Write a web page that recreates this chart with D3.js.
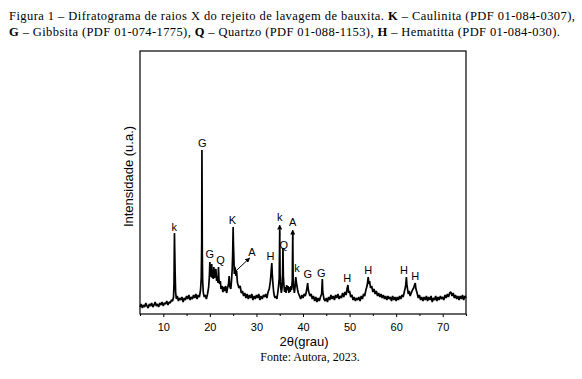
<!DOCTYPE html>
<html>
<head>
<meta charset="utf-8">
<script src="https://cdn.jsdelivr.net/npm/d3@7/dist/d3.min.js"></script>
<style>
  html, body { margin: 0; padding: 0; background: #fff; }
  svg { display: block; }
</style>
</head>
<body>
<svg id="chart" width="582" height="379"></svg>
<script>
// ---------- DATA ----------
const titleLine1 = [
  {t: "Figura 1 – Difratograma de raios X do rejeito de lavagem de bauxita. ", b: false},
  {t: "K", b: true},
  {t: " – Caulinita (PDF 01-084-0307),", b: false}
];
const titleLine2 = [
  {t: "G", b: true}, {t: " – Gibbsita (PDF 01-074-1775), ", b: false},
  {t: "Q", b: true}, {t: " – Quartzo (PDF 01-088-1153), ", b: false},
  {t: "H", b: true}, {t: " – Hematitta (PDF 01-084-030).", b: false}
];
const xLabel = "2θ(grau)";
const yLabel = "Intensidade (u.a.)";
const sourceText = "Fonte: Autora, 2023.";
const xDomain = [5, 75];
const yDomain = [0, 263];
const xMajorTicks = [10, 20, 30, 40, 50, 60, 70];
const xMinorTicks = [5, 15, 25, 35, 45, 55, 65, 75];

// [2θ, intensity (u.a.)]
const scan = [
  [5.00,7],[5.25,10],[5.50,6],[5.75,9],[6.00,7],[6.25,11],[6.50,8],[6.75,6],[7.00,10],[7.25,8],
  [7.50,11],[7.75,7],[8.00,9],[8.25,12],[8.50,8],[8.75,10],[9.00,7],[9.25,11],[9.50,9],[9.75,12],
  [10.00,8],[10.25,11],[10.50,10],[10.75,13],[11.00,9],[11.25,12],[11.50,11],[11.75,14],[12.00,13],[12.20,17],
  [12.30,30],[12.40,81],[12.45,66],[12.55,40],[12.65,22],[12.80,15],[13.00,18],[13.25,13],[13.50,16],[13.75,14],
  [14.00,17],[14.25,12],[14.50,16],[14.75,14],[15.00,18],[15.25,15],[15.50,19],[15.75,14],[16.00,17],[16.25,15],
  [16.50,19],[16.75,16],[17.00,20],[17.25,15],[17.50,19],[17.75,17],[18.00,24],[18.15,36],[18.25,70],[18.30,164],
  [18.38,60],[18.45,33],[18.60,21],[18.80,17],[19.00,19],[19.25,15],[19.50,20],[19.75,27],[19.90,38],[20.00,52],
  [20.10,40],[20.20,46],[20.30,37],[20.40,50],[20.50,36],[20.60,42],[20.75,35],[20.85,47],[21.00,36],[21.15,42],
  [21.30,45],[21.45,33],[21.60,38],[21.75,31],[21.85,47],[21.95,35],[22.10,30],[22.25,33],[22.40,25],[22.60,28],
  [22.80,22],[23.00,27],[23.20,23],[23.40,28],[23.60,21],[23.80,26],[24.00,30],[24.15,38],[24.30,27],[24.50,25],
  [24.65,33],[24.80,45],[24.90,60],[25.00,87],[25.05,72],[25.15,58],[25.25,40],[25.35,47],[25.50,44],[25.60,38],
  [25.75,43],[25.90,32],[26.00,30],[26.25,26],[26.50,28],[26.75,21],[27.00,23],[27.25,18],[27.50,21],[27.75,16],
  [28.00,20],[28.25,15],[28.50,19],[28.75,16],[29.00,20],[29.25,14],[29.50,18],[29.75,15],[30.00,19],[30.25,16],
  [30.50,20],[30.75,14],[31.00,18],[31.25,15],[31.50,19],[31.75,17],[32.00,20],[32.25,16],[32.50,22],[32.75,25],
  [33.00,33],[33.15,42],[33.30,51],[33.40,40],[33.55,30],[33.70,22],[33.85,18],[34.00,16],[34.20,18],[34.40,15],
  [34.60,22],[34.75,28],[34.90,36],[35.00,84],[35.08,40],[35.20,27],[35.35,21],[35.50,26],[35.62,40],[35.70,66],
  [35.78,38],[35.90,29],[36.05,22],[36.20,27],[36.35,21],[36.50,29],[36.65,24],[36.80,28],[36.95,21],[37.10,27],
  [37.25,22],[37.40,28],[37.55,24],[37.70,34],[37.80,82],[37.88,36],[38.00,26],[38.15,21],[38.30,27],[38.45,37],
  [38.55,33],[38.70,28],[38.85,24],[39.00,21],[39.25,18],[39.50,15],[39.75,19],[40.00,16],[40.25,20],[40.50,18],
  [40.75,23],[41.00,31],[41.15,24],[41.30,21],[41.50,18],[41.75,20],[42.00,15],[42.25,18],[42.50,13],[42.75,17],
  [43.00,12],[43.25,16],[43.50,13],[43.75,17],[44.00,20],[44.15,35],[44.25,22],[44.50,15],[44.75,13],[45.00,16],
  [45.25,12],[45.50,17],[45.75,14],[46.00,19],[46.25,15],[46.50,18],[46.75,14],[47.00,19],[47.25,16],[47.50,20],
  [47.75,15],[48.00,18],[48.25,16],[48.50,21],[48.75,17],[49.00,22],[49.25,19],[49.50,26],[49.65,29],[49.80,21],
  [50.00,23],[50.25,17],[50.50,19],[50.75,14],[51.00,17],[51.25,13],[51.50,16],[51.75,14],[52.00,17],[52.25,13],
  [52.50,18],[52.75,15],[53.00,20],[53.25,18],[53.50,24],[53.75,28],[53.90,33],[54.00,37],[54.15,30],[54.30,33],
  [54.50,26],[54.75,28],[55.00,22],[55.25,25],[55.50,20],[55.75,23],[56.00,18],[56.25,21],[56.50,17],[56.75,20],
  [57.00,16],[57.25,19],[57.50,15],[57.75,18],[58.00,14],[58.25,18],[58.50,15],[58.75,17],[59.00,13],[59.25,18],
  [59.50,14],[59.75,17],[60.00,13],[60.25,17],[60.50,14],[60.75,18],[61.00,15],[61.25,19],[61.50,17],[61.75,22],
  [62.00,27],[62.10,31],[62.20,37],[62.30,30],[62.45,25],[62.60,20],[62.80,23],[63.00,18],[63.25,21],[63.50,24],
  [63.75,26],[63.95,29],[64.10,31],[64.25,25],[64.50,21],[64.75,16],[65.00,19],[65.25,14],[65.50,17],[65.75,13],
  [66.00,17],[66.25,14],[66.50,18],[66.75,13],[67.00,17],[67.25,14],[67.50,18],[67.75,12],[68.00,16],[68.25,14],
  [68.50,18],[68.75,13],[69.00,17],[69.25,14],[69.50,18],[69.75,15],[70.00,17],[70.25,14],[70.50,19],[70.75,16],
  [71.00,20],[71.25,17],[71.50,21],[71.75,22],[72.00,18],[72.25,21],[72.50,16],[72.75,19],[73.00,15],[73.25,18],
  [73.50,14],[73.75,18],[74.00,15],[74.25,19],[74.50,14],[74.75,18],[75.00,16]
];

// phase labels: text, 2θ, intensity at text baseline
const peakLabels = [
  {t: "k", x: 12.35, y: 83},
  {t: "G", x: 18.4, y: 167},
  {t: "G", x: 20.0, y: 56},
  {t: "Q", x: 22.3, y: 50},
  {t: "K", x: 24.85, y: 90},
  {t: "A", x: 29.05, y: 58},
  {t: "H", x: 33.0, y: 54},
  {t: "k", x: 35.0, y: 93},
  {t: "Q", x: 35.9, y: 65},
  {t: "A", x: 37.8, y: 88},
  {t: "k", x: 38.7, y: 42},
  {t: "G", x: 41.0, y: 36},
  {t: "G", x: 43.9, y: 37},
  {t: "H", x: 49.5, y: 32},
  {t: "H", x: 54.0, y: 40},
  {t: "H", x: 61.7, y: 40},
  {t: "H", x: 64.1, y: 34}
];
// arrows: from (x1,y1) to (x2,y2) in data units
const arrows = [
  {x1: 25.35, y1: 42, x2: 28.55, y2: 56},
  {x1: 35.0, y1: 78, x2: 35.0, y2: 89},
  {x1: 37.8, y1: 74, x2: 37.8, y2: 84}
];

// ---------- LAYOUT ----------
const svg = d3.select("#chart");
const plot = {left: 140, right: 466, top: 51, bottom: 314};

const x = d3.scaleLinear().domain(xDomain).range([plot.left, plot.right]);
const y = d3.scaleLinear().domain(yDomain).range([plot.bottom, plot.top]);

svg.append("rect").attr("width", 582).attr("height", 379).attr("fill", "#fff");

svg.append("defs").append("marker")
  .attr("id", "ah").attr("viewBox", "0 0 10 10").attr("refX", 9).attr("refY", 5)
  .attr("markerWidth", 5).attr("markerHeight", 5).attr("orient", "auto")
  .attr("markerUnits", "userSpaceOnUse")
  .append("path").attr("d", "M0,0 L10,5 L0,10 Z").attr("fill", "#000");

// title
function addTitle(parts, yy, target) {
  const t = svg.append("text").attr("x", 9).attr("y", yy)
    .attr("font-family", "'Liberation Serif', 'Times New Roman', serif")
    .attr("font-size", 12.5).attr("fill", "#000");
  parts.forEach(p => t.append("tspan").text(p.t).attr("font-weight", p.b ? "bold" : "normal"));
  const w = t.node().getComputedTextLength();
  const n = parts.map(p => p.t).join("").length;
  t.attr("letter-spacing", ((target - w) / (n - 1)).toFixed(3));
}
addTitle(titleLine1, 20, 566);
addTitle(titleLine2, 36, 551);

// x axis
const axG = svg.append("g").attr("transform", `translate(0,${plot.bottom})`);
axG.call(d3.axisBottom(x).tickValues(xMajorTicks).tickSize(3).tickPadding(6).tickFormat(d3.format("d")))
  .call(g => g.select(".domain").remove())
  .call(g => g.selectAll("text").attr("font-family", "'Liberation Sans', Arial, sans-serif").attr("font-size", 11).attr("fill", "#000"))
  .call(g => g.selectAll("line").attr("stroke", "#000"));
const minG = svg.append("g").attr("transform", `translate(0,${plot.bottom})`);
minG.call(d3.axisBottom(x).tickValues(xMinorTicks).tickSize(2).tickFormat(""))
  .call(g => g.select(".domain").remove())
  .call(g => g.selectAll("line").attr("stroke", "#000"));

// frame
svg.append("rect")
  .attr("x", plot.left).attr("y", plot.top)
  .attr("width", plot.right - plot.left).attr("height", plot.bottom - plot.top)
  .attr("fill", "none").attr("stroke", "#000").attr("stroke-width", 1.2);

// pattern
const line = d3.line().x(d => x(d[0])).y(d => y(d[1]));
svg.append("path").datum(scan).attr("d", line)
  .attr("fill", "none").attr("stroke", "#000").attr("stroke-width", 1.7).attr("stroke-linejoin", "bevel");

// arrows
svg.selectAll(".arr").data(arrows).join("line").attr("class", "arr")
  .attr("x1", d => x(d.x1)).attr("y1", d => y(d.y1))
  .attr("x2", d => x(d.x2)).attr("y2", d => y(d.y2))
  .attr("stroke", "#000").attr("stroke-width", 1).attr("marker-end", "url(#ah)");

// labels
svg.selectAll(".pl").data(peakLabels).join("text").attr("class", "pl")
  .attr("x", d => x(d.x)).attr("y", d => y(d.y))
  .attr("text-anchor", "middle")
  .attr("font-family", "'Liberation Sans', Arial, sans-serif").attr("font-size", 11)
  .attr("fill", "#000").text(d => d.t);

// axis titles
svg.append("text").attr("x", 304).attr("y", 346).attr("text-anchor", "middle")
  .attr("font-family", "'Liberation Sans', Arial, sans-serif").attr("font-size", 13)
  .attr("fill", "#000").text(xLabel);
svg.append("text").attr("transform", "translate(133,176.5) rotate(-90)").attr("text-anchor", "middle")
  .attr("font-family", "'Liberation Sans', Arial, sans-serif").attr("font-size", 13)
  .attr("fill", "#000").text(yLabel);
svg.append("text").attr("x", 310).attr("y", 361).attr("text-anchor", "middle")
  .attr("font-family", "'Liberation Serif', 'Times New Roman', serif").attr("font-size", 12)
  .attr("fill", "#000").text(sourceText);
</script>
</body>
</html>
